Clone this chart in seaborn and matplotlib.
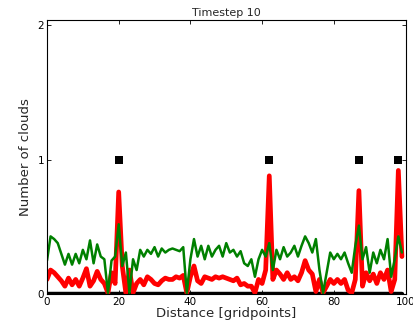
import numpy as np
import pandas as pd
import matplotlib
matplotlib.use("Agg")
import matplotlib.pyplot as plt
import seaborn as sns

# Data
distance = list(range(100))
green_vals = [0.25, 0.43, 0.41, 0.38, 0.30, 0.22, 0.30, 0.22, 0.30, 0.23,
              0.33, 0.26, 0.40, 0.23, 0.37, 0.28, 0.26, 0.01, 0.25, 0.28,
              0.52, 0.21, 0.31, 0.01, 0.26, 0.18, 0.33, 0.28, 0.33, 0.30,
              0.35, 0.28, 0.34, 0.31, 0.33, 0.34, 0.33, 0.32, 0.35, 0.01,
              0.26, 0.41, 0.28, 0.36, 0.26, 0.36, 0.28, 0.33, 0.36, 0.28,
              0.38, 0.31, 0.33, 0.28, 0.32, 0.23, 0.21, 0.26, 0.13, 0.26,
              0.33, 0.28, 0.38, 0.18, 0.33, 0.26, 0.35, 0.28, 0.31, 0.36,
              0.28, 0.36, 0.43, 0.38, 0.31, 0.41, 0.18, 0.01, 0.16, 0.31,
              0.26, 0.30, 0.26, 0.31, 0.23, 0.16, 0.36, 0.51, 0.26, 0.35,
              0.16, 0.31, 0.23, 0.33, 0.26, 0.41, 0.13, 0.26, 0.43, 0.31]
red_vals = [0.11, 0.18, 0.16, 0.13, 0.10, 0.06, 0.12, 0.07, 0.11, 0.06,
            0.12, 0.19, 0.06, 0.10, 0.17, 0.11, 0.08, 0.01, 0.16, 0.08,
            0.76, 0.21, 0.01, 0.18, 0.01, 0.08, 0.11, 0.07, 0.13, 0.11,
            0.08, 0.07, 0.10, 0.12, 0.11, 0.11, 0.13, 0.12, 0.14, 0.01,
            0.13, 0.21, 0.10, 0.08, 0.13, 0.12, 0.11, 0.13, 0.12, 0.13,
            0.12, 0.11, 0.10, 0.12, 0.07, 0.08, 0.06, 0.06, 0.01, 0.11,
            0.08, 0.18, 0.88, 0.11, 0.18, 0.15, 0.11, 0.16, 0.11, 0.13,
            0.10, 0.16, 0.25, 0.18, 0.15, 0.02, 0.11, 0.01, 0.06, 0.11,
            0.08, 0.11, 0.08, 0.11, 0.03, 0.01, 0.11, 0.77, 0.06, 0.16,
            0.10, 0.15, 0.08, 0.16, 0.11, 0.18, 0.02, 0.11, 0.92, 0.28]
cloud_pos = [20, 62, 87, 98]
cloud_count = [1, 1, 1, 1]
x_ticks = [0, 20, 40, 60, 80, 100]
y_ticks = [0, 1, 2]

df = pd.DataFrame({"distance": distance, "green": green_vals, "red": red_vals,
                   "zero": [0] * len(distance)})
clouds = pd.DataFrame({"distance": cloud_pos, "count": cloud_count})

sns.set_style("white")
plt.rcParams["font.family"] = ["DejaVu Sans"]

fig = plt.figure(figsize=(4.14, 3.23), dpi=100)
ax = fig.add_axes([0.1135, 0.089, 0.866, 0.850])

sns.lineplot(data=df, x="distance", y="zero", ax=ax, color="black", lw=3.2)
sns.lineplot(data=df, x="distance", y="red", ax=ax, color="#ff0000", lw=3.4)
sns.lineplot(data=df, x="distance", y="green", ax=ax, color="#008000", lw=1.8)
sns.scatterplot(data=clouds, x="distance", y="count", ax=ax, color="black",
                marker="s", s=28, edgecolor="black", linewidth=0, zorder=5)

ax.set_xlim(0, 100)
ax.set_ylim(0, 2.04)
ax.set_xticks(x_ticks)
ax.set_yticks(y_ticks)
ax.tick_params(direction="in", length=3, width=0.6, labelsize=7.5, pad=2,
               top=True, right=True, bottom=True, left=True, colors="black")
for s in ax.spines.values():
    s.set_visible(True)
    s.set_color("black")
    s.set_linewidth(0.8)
ax.set_xlabel("Distance [gridpoints]", fontsize=9.5, labelpad=0)
ax.set_ylabel("Number of clouds", fontsize=9.5, labelpad=4)
ax.set_title("Timestep 10", fontsize=8, pad=3)

fig.savefig("out.png", dpi=100)
